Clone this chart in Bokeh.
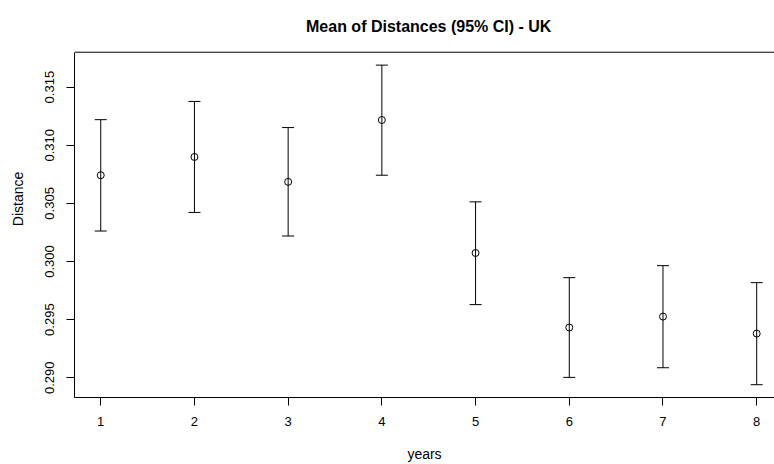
from bokeh.plotting import figure
from bokeh.models import Range1d, FixedTicker, Span, Label
from bokeh.embed import file_html
from bokeh.resources import INLINE

# ---- data ----
years = [1, 2, 3, 4, 5, 6, 7, 8]
means = [0.30742, 0.30899, 0.30685, 0.31217, 0.30073, 0.29432, 0.29526, 0.29380]
upper = [0.31220, 0.31377, 0.31152, 0.31689, 0.30513, 0.29861, 0.29964, 0.29818]
lower = [0.30262, 0.30422, 0.30219, 0.30742, 0.29629, 0.29003, 0.29086, 0.28940]

x_ticks = [1, 2, 3, 4, 5, 6, 7, 8]
x_tick_labels = ["1", "2", "3", "4", "5", "6", "7", "8"]
y_ticks = [0.290, 0.295, 0.300, 0.305, 0.310, 0.315]
y_tick_labels = ["0.290", "0.295", "0.300", "0.305", "0.310", "0.315"]

title_text = "Mean of Distances (95% CI) - UK"
x_label = "years"
y_label = "Distance"

FONT = "Liberation Sans"

# plotting box (R-style padded limits)
Y_LO, Y_HI = 0.2883, 0.3180
# the frame extends above the box to hold the title
Y_TOP = 0.32245

p = figure(width=774, height=464, output_backend="svg", toolbar_location=None,
           x_range=Range1d(0.72, 8.19), y_range=Range1d(Y_LO, Y_TOP),
           min_border_left=74, min_border_right=0, min_border_top=0,
           min_border_bottom=66, x_axis_label=x_label, y_axis_label=y_label)
p.outline_line_color = None
p.grid.visible = False
p.background_fill_color = "white"
p.border_fill_color = "white"

# x axis
xa = p.xaxis[0]
xa.ticker = FixedTicker(ticks=x_ticks)
xa.major_label_overrides = {t: l for t, l in zip(x_ticks, x_tick_labels)}
xa.major_tick_out = 8
xa.major_tick_in = 0
xa.minor_tick_out = 0
xa.minor_tick_in = 0
xa.axis_line_color = "black"
xa.major_tick_line_color = "black"
xa.major_label_text_font = FONT
xa.major_label_text_font_size = "13px"
xa.major_label_text_color = "black"
xa.major_label_standoff = 11
xa.axis_label_text_font = FONT
xa.axis_label_text_font_size = "14px"
xa.axis_label_text_font_style = "normal"
xa.axis_label_text_color = "black"
xa.axis_label_standoff = 17

# y axis
ya = p.yaxis[0]
ya.bounds = (Y_LO, Y_HI)
ya.ticker = FixedTicker(ticks=y_ticks)
ya.major_label_overrides = {t: l for t, l in zip(y_ticks, y_tick_labels)}
ya.major_label_orientation = "vertical"
ya.major_tick_out = 8
ya.major_tick_in = 0
ya.minor_tick_out = 0
ya.minor_tick_in = 0
ya.axis_line_color = "black"
ya.major_tick_line_color = "black"
ya.major_label_text_font = FONT
ya.major_label_text_font_size = "13px"
ya.major_label_text_color = "black"
ya.major_label_standoff = 12
ya.axis_label_text_font = FONT
ya.axis_label_text_font_size = "14px"
ya.axis_label_text_font_style = "normal"
ya.axis_label_text_color = "black"
ya.axis_label_standoff = 17

# top border line of the box
p.add_layout(Span(location=Y_HI, dimension="width", line_color="black", line_width=1))

# error bars
p.segment(x0=years, y0=lower, x1=years, y1=upper, line_color="black", line_width=1)
p.scatter(years, upper, marker="dash", size=12, line_color="black", line_width=1)
p.scatter(years, lower, marker="dash", size=12, line_color="black", line_width=1)
# points
p.scatter(years, means, marker="circle", size=7, fill_color=None,
          line_color="black", line_width=1)

# title
p.add_layout(Label(x=4.5, y=0.32024, text=title_text, text_align="center",
                   text_baseline="alphabetic", text_font=FONT,
                   text_font_size="16px", text_font_style="bold",
                   text_color="black"))

open("out.html", "w").write(file_html(p, INLINE))
